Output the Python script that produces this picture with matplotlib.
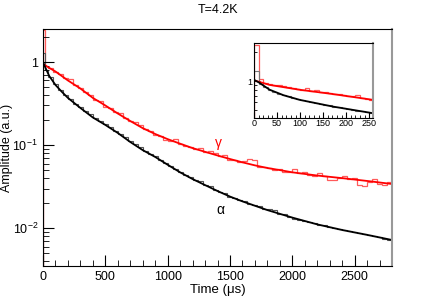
import numpy as np
import matplotlib
matplotlib.use("Agg")
import matplotlib.pyplot as plt
from matplotlib.ticker import FixedLocator, LogLocator, NullFormatter, FuncFormatter, MultipleLocator

plt.rcParams['font.family'] = ['Liberation Sans', 'DejaVu Sans']
plt.rcParams['mathtext.fontset'] = 'custom'
plt.rcParams['mathtext.rm'] = 'Liberation Sans'
plt.rcParams['mathtext.it'] = 'Liberation Sans:italic'

# main histograms: first narrow bin, then 40 us bins
edges = [0, 15] + list(range(40, 2801, 40))

gamma_hist = [2.4, 0.90, 0.84, 0.76, 0.71, 0.64, 0.62, 0.53, 0.49, 0.43, 0.40,
              0.35, 0.34, 0.29, 0.28, 0.25, 0.245, 0.21, 0.195, 0.19, 0.175,
              0.155, 0.146, 0.133, 0.13, 0.115, 0.112, 0.117, 0.103, 0.098, 0.095,
              0.089, 0.093, 0.082, 0.085, 0.080, 0.073, 0.075, 0.067, 0.066, 0.062,
              0.064, 0.068, 0.066, 0.055, 0.054, 0.053, 0.050, 0.051, 0.048, 0.048,
              0.052, 0.046, 0.047, 0.044, 0.042, 0.046, 0.043, 0.038, 0.038, 0.040,
              0.042, 0.039, 0.040, 0.033, 0.032, 0.036, 0.039, 0.034, 0.033, 0.036]

alpha_hist = [1.3, 0.80, 0.66, 0.54, 0.46, 0.40, 0.355, 0.315, 0.285, 0.26, 0.235,
              0.212, 0.195, 0.177, 0.163, 0.148, 0.136, 0.124, 0.113, 0.103, 0.095,
              0.086, 0.079, 0.073, 0.067, 0.061, 0.056, 0.052, 0.047, 0.044, 0.041,
              0.038, 0.0365, 0.033, 0.032, 0.029, 0.0275, 0.0262, 0.0240, 0.0232, 0.0218,
              0.0210, 0.0198, 0.0190, 0.0186, 0.0172, 0.0168, 0.0165, 0.0150, 0.0146, 0.0138,
              0.0130, 0.0126, 0.0121, 0.0118, 0.0114, 0.0109, 0.0108, 0.0104, 0.0099, 0.0097,
              0.0094, 0.0092, 0.0091, 0.0087, 0.0086, 0.0082, 0.0081, 0.0078, 0.0075, 0.0072]

# fit curves
gamma_fit_t = [0, 50, 100, 150, 200, 300, 400, 500, 600, 700, 800, 900, 1000, 1100,
               1200, 1300, 1400, 1500, 1600, 1700, 1800, 1900, 2000, 2200, 2400, 2600, 2800]
gamma_fit_v = [0.95, 0.85, 0.77, 0.68, 0.60, 0.48, 0.37, 0.30, 0.24, 0.195, 0.16, 0.136,
               0.118, 0.104, 0.092, 0.083, 0.075, 0.068, 0.062, 0.057, 0.053, 0.050,
               0.047, 0.043, 0.040, 0.037, 0.034]

alpha_fit_t = [0, 20, 50, 100, 150, 200, 300, 400, 500, 600, 700, 800, 900, 1000, 1100,
               1200, 1300, 1400, 1500, 1600, 1800, 2000, 2200, 2400, 2600, 2800]
alpha_fit_v = [1.0, 0.85, 0.68, 0.53, 0.44, 0.37, 0.28, 0.215, 0.175, 0.14, 0.109, 0.087,
               0.072, 0.058, 0.047, 0.039, 0.033, 0.028, 0.024, 0.021, 0.0165, 0.0134,
               0.0111, 0.0095, 0.0083, 0.0072]

# inset (first 260 us, 10 us bins)
inset_edges = list(range(0, 261, 10))
inset_gamma_hist = [2.4, 1.04, 0.95, 0.93, 0.90, 0.90, 0.88, 0.87, 0.85, 0.82, 0.81,
                    0.84, 0.79, 0.81, 0.775, 0.765, 0.755, 0.735, 0.725, 0.71, 0.70,
                    0.69, 0.71, 0.67, 0.655, 0.64]
inset_alpha_hist = [1.27, 0.93, 0.87, 0.81, 0.77, 0.74, 0.71, 0.69, 0.665, 0.645, 0.63,
                    0.615, 0.60, 0.59, 0.58, 0.565, 0.555, 0.54, 0.53, 0.52, 0.51, 0.50,
                    0.49, 0.48, 0.47, 0.46]
inset_gamma_t = [5, 34, 99, 171, 258]
inset_gamma_v = [1.0, 0.91, 0.81, 0.73, 0.635]
inset_alpha_t = [0, 10, 34, 64, 99, 171, 258]
inset_alpha_v = [1.03, 0.97, 0.81, 0.71, 0.635, 0.54, 0.46]

fig = plt.figure(figsize=(4.36, 2.96), dpi=100)
ax = fig.add_axes([43/436, 30/296, 349/436, 237/296])

ax.stairs(gamma_hist, edges, color='#ff5a5a', lw=0.9)
ax.stairs(alpha_hist, edges, color='#555555', lw=0.8)
ax.plot(gamma_fit_t, gamma_fit_v, color='red', lw=1.3)
ax.plot(alpha_fit_t, alpha_fit_v, color='black', lw=1.3)

ax.set_yscale('log')
ax.set_xlim(0, 2800)
ax.set_ylim(0.0035, 2.5)
ax.xaxis.set_major_locator(MultipleLocator(500))
ax.xaxis.set_minor_locator(MultipleLocator(100))
ax.yaxis.set_major_locator(FixedLocator([0.01, 0.1, 1]))
ax.yaxis.set_minor_locator(LogLocator(base=10, subs=np.arange(2, 10)))
ax.yaxis.set_minor_formatter(NullFormatter())
ylabels = {0.01: r'$10^{-2}$', 0.1: r'$10^{-1}$', 1: '1'}
ax.yaxis.set_major_formatter(FuncFormatter(lambda v, p: ylabels.get(round(v, 3), '')))
ax.tick_params(which='both', direction='in', labelsize=9, top=False, right=False)
ax.tick_params(which='major', length=8)
ax.tick_params(which='minor', length=4)
ax.spines['right'].set_color('#999999')
ax.spines['right'].set_linewidth(1.5)

ax.set_xlabel('Time (μs)', fontsize=9.5, labelpad=1)
ax.set_ylabel('Amplitude (a.u.)', fontsize=9)
ax.yaxis.set_label_coords(-30/349, 0.5)
fig.text(0.5, 1 - 10/296, 'T=4.2K', ha='center', va='center', fontsize=9)

ax.text(1411, 0.106, 'γ', color='red', fontsize=10, ha='center', va='center')
ax.text(1420, 0.0165, 'α', color='black', fontsize=10, ha='center', va='center')

# inset
axi = fig.add_axes([254/436, 178/296, 119/436, 75/296])
axi.stairs(inset_gamma_hist, inset_edges, color='#ff5a5a', lw=0.9)
axi.stairs(inset_alpha_hist, inset_edges, color='#777777', lw=0.8)
axi.plot(inset_gamma_t, inset_gamma_v, color='red', lw=1.3)
axi.plot(inset_alpha_t, inset_alpha_v, color='black', lw=1.3)
axi.set_yscale('log')
axi.set_xlim(0, 258)
axi.set_ylim(0.41, 2.5)
axi.xaxis.set_major_locator(MultipleLocator(50))
axi.xaxis.set_minor_locator(MultipleLocator(10))
axi.yaxis.set_major_locator(FixedLocator([1]))
axi.yaxis.set_minor_locator(LogLocator(base=10, subs=np.arange(2, 10)))
axi.yaxis.set_minor_formatter(NullFormatter())
axi.yaxis.set_major_formatter(FuncFormatter(lambda v, p: '1'))
axi.tick_params(which='both', direction='in', labelsize=6.5, pad=1, top=False, right=False)
axi.tick_params(which='major', length=4)
axi.tick_params(which='minor', length=2)
axi.spines['right'].set_color('#999999')
axi.spines['right'].set_linewidth(1.5)

fig.savefig('out.png', dpi=100)
